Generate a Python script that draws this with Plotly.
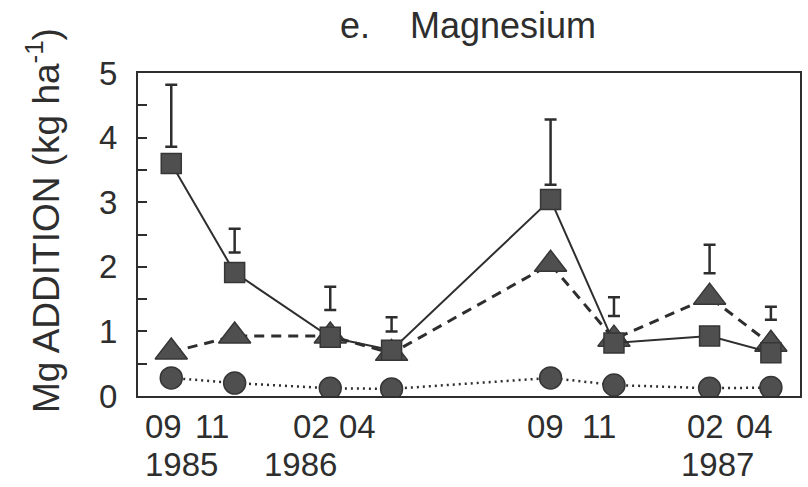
import plotly.graph_objects as go

# ---- data ----
dates = ["1985-09-01", "1985-11-01", "1986-02-01", "1986-04-01",
         "1986-09-01", "1986-11-01", "1987-02-01", "1987-04-01"]
squares = [3.60, 1.91, 0.91, 0.71, 3.04, 0.82, 0.93, 0.67]
triangles = [0.68, 0.93, 0.93, 0.66, 2.04, 0.88, 1.53, 0.80]
circles = [0.28, 0.20, 0.12, 0.11, 0.28, 0.17, 0.12, 0.13]
err_top = [4.82, 2.59, 1.69, 1.22, 4.28, 1.53, 2.34, 1.38]
err_bottom = [3.86, 2.22, 1.33, 1.00, 3.27, 1.24, 1.90, 1.18]
month_labels = ["09", "11", "02", "04", "09", "11", "02", "04"]
year_labels = ["1985", "1986", "1987"]
y_ticks = [0, 1, 2, 3, 4, 5]

# label placement (paper fractions of plot width)
month_label_pos = [0.038, 0.112, 0.262, 0.332, 0.616, 0.697, 0.857, 0.931]
year_label_pos = [0.066, 0.2455, 0.876]

FONT = "Liberation Sans, Arial, Helvetica, sans-serif"
INK = "#2e2e2e"
MARK = "#4f4f4f"

fig = go.Figure()

# error bars drawn as floating I-beams
mid = [(a + b) / 2 for a, b in zip(err_top, err_bottom)]
half = [(a - b) / 2 for a, b in zip(err_top, err_bottom)]
fig.add_trace(go.Scatter(
    x=dates, y=mid, mode="markers",
    marker=dict(size=1, color="rgba(0,0,0,0)"),
    error_y=dict(type="data", array=half, symmetric=True,
                 color=INK, thickness=2.5, width=6),
    showlegend=False, hoverinfo="skip"))

fig.add_trace(go.Scatter(
    x=dates, y=circles, mode="lines+markers",
    line=dict(color=INK, width=2.5, dash="2px,4px"),
    marker=dict(symbol="circle", size=22, color=MARK,
                line=dict(color="#363636", width=1.5)),
    showlegend=False))

fig.add_trace(go.Scatter(
    x=dates, y=triangles, mode="lines+markers",
    line=dict(color=INK, width=3, dash="10px,7px"),
    marker=dict(symbol="triangle-up", size=28, color=MARK,
                line=dict(color="#363636", width=1.5)),
    showlegend=False))

fig.add_trace(go.Scatter(
    x=dates, y=squares, mode="lines+markers",
    line=dict(color=INK, width=2),
    marker=dict(symbol="square", size=20, color=MARK,
                line=dict(color="#363636", width=1.5)),
    showlegend=False))

annotations = []
for lab, px in zip(month_labels, month_label_pos):
    annotations.append(dict(text=lab, x=px, y=-0.094, xref="paper", yref="paper",
                            xanchor="center", yanchor="middle", showarrow=False,
                            font=dict(family=FONT, size=33, color=INK)))
for lab, px in zip(year_labels, year_label_pos):
    annotations.append(dict(text=lab, x=px, y=-0.212, xref="paper", yref="paper",
                            xanchor="center", yanchor="middle", showarrow=False,
                            font=dict(family=FONT, size=33, color=INK)))
annotations.append(dict(text="Mg ADDITION (kg ha<sup>-1</sup>)", textangle=-90,
                        x=-0.142, y=0.545, xref="paper", yref="paper",
                        xanchor="center", yanchor="middle", showarrow=False,
                        font=dict(family=FONT, size=37, color=INK)))

fig.update_layout(
    width=808, height=487,
    margin=dict(l=138, r=6, t=73, b=91),
    paper_bgcolor="white", plot_bgcolor="white",
    title=dict(text="e.\u00a0\u00a0\u00a0\u00a0Magnesium", x=468 / 808, xanchor="center",
               y=1 - 25 / 487, yanchor="middle",
               font=dict(family=FONT, size=36, color=INK)),
    xaxis=dict(type="date", range=["1985-07-31", "1987-04-29"],
               showticklabels=False, ticks="", showgrid=False, zeroline=False,
               showline=True, linecolor=INK, linewidth=2, mirror=True),
    yaxis=dict(range=[0, 5], tickvals=y_ticks, ticks="inside", ticklen=9,
               tickwidth=1.5, tickcolor=INK, ticklabelstandoff=12,
               minor=dict(dtick=0.5, ticks="inside", ticklen=9, tickwidth=1.5,
                          tickcolor=INK, showgrid=False),
               tickfont=dict(family=FONT, size=33, color=INK),
               showgrid=False, zeroline=False,
               showline=True, linecolor=INK, linewidth=2, mirror=True),
    annotations=annotations,
)

fig.write_html("out.html")
